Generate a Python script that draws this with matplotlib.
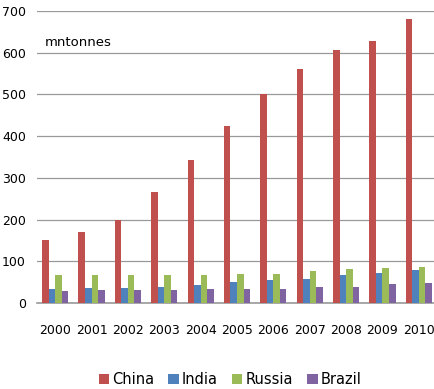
import matplotlib.pyplot as plt
import numpy as np

plt.rcParams['font.family'] = ['DejaVu Sans Condensed', 'DejaVu Sans']

anos = ['2000', '2001', '2002', '2003', '2004', '2005', '2006', '2007', '2008', '2009', '2010']
china = [150, 170, 198, 266, 342, 424, 501, 560, 606, 627, 680]
india = [34, 36, 36, 39, 42, 51, 54, 58, 66, 72, 78]
russia = [66, 66, 66, 66, 66, 70, 70, 76, 82, 84, 87]
brazil = [28, 30, 30, 30, 34, 34, 34, 39, 39, 46, 49]

series = [('China', china, '#C0504D'), ('India', india, '#4F81BD'),
          ('Russia', russia, '#9BBB59'), ('Brazil', brazil, '#8064A2')]

fig = plt.figure(figsize=(4.34, 3.89), dpi=100)
ax = fig.add_axes([37 / 434, 86 / 389, 400 / 434, 292 / 389])

x = np.arange(len(anos))
w = 0.18
for i, (nome, valores, cor) in enumerate(series):
    ax.bar(x + (i - 1.5) * w, valores, w, color=cor, label=nome, zorder=3)

ax.set_xlim(-0.5, len(anos) - 0.5)
ax.set_ylim(0, 700)
ax.set_yticks(range(0, 701, 100))
ax.set_xticks(x)
ax.set_xticklabels(anos)
ax.grid(axis='y', color='#999999', linewidth=0.9, zorder=0)
for lado in ['left', 'right', 'top']:
    ax.spines[lado].set_visible(False)
ax.spines['bottom'].set_color('#999999')
ax.spines['bottom'].set_linewidth(1.2)
ax.tick_params(axis='both', length=0, labelsize=9)
ax.tick_params(axis='x', pad=15)
ax.tick_params(axis='y', pad=8)

ax.text(0.02, 0.893, 'mntonnes', transform=ax.transAxes, fontsize=9.5, va='center')

fig.legend(loc='center', bbox_to_anchor=(0.53, 0.025), ncol=4, frameon=False,
           fontsize=10.5, handlelength=0.7, handleheight=0.7, handletextpad=0.2,
           columnspacing=1.0)

fig.savefig('out.png', dpi=100)
